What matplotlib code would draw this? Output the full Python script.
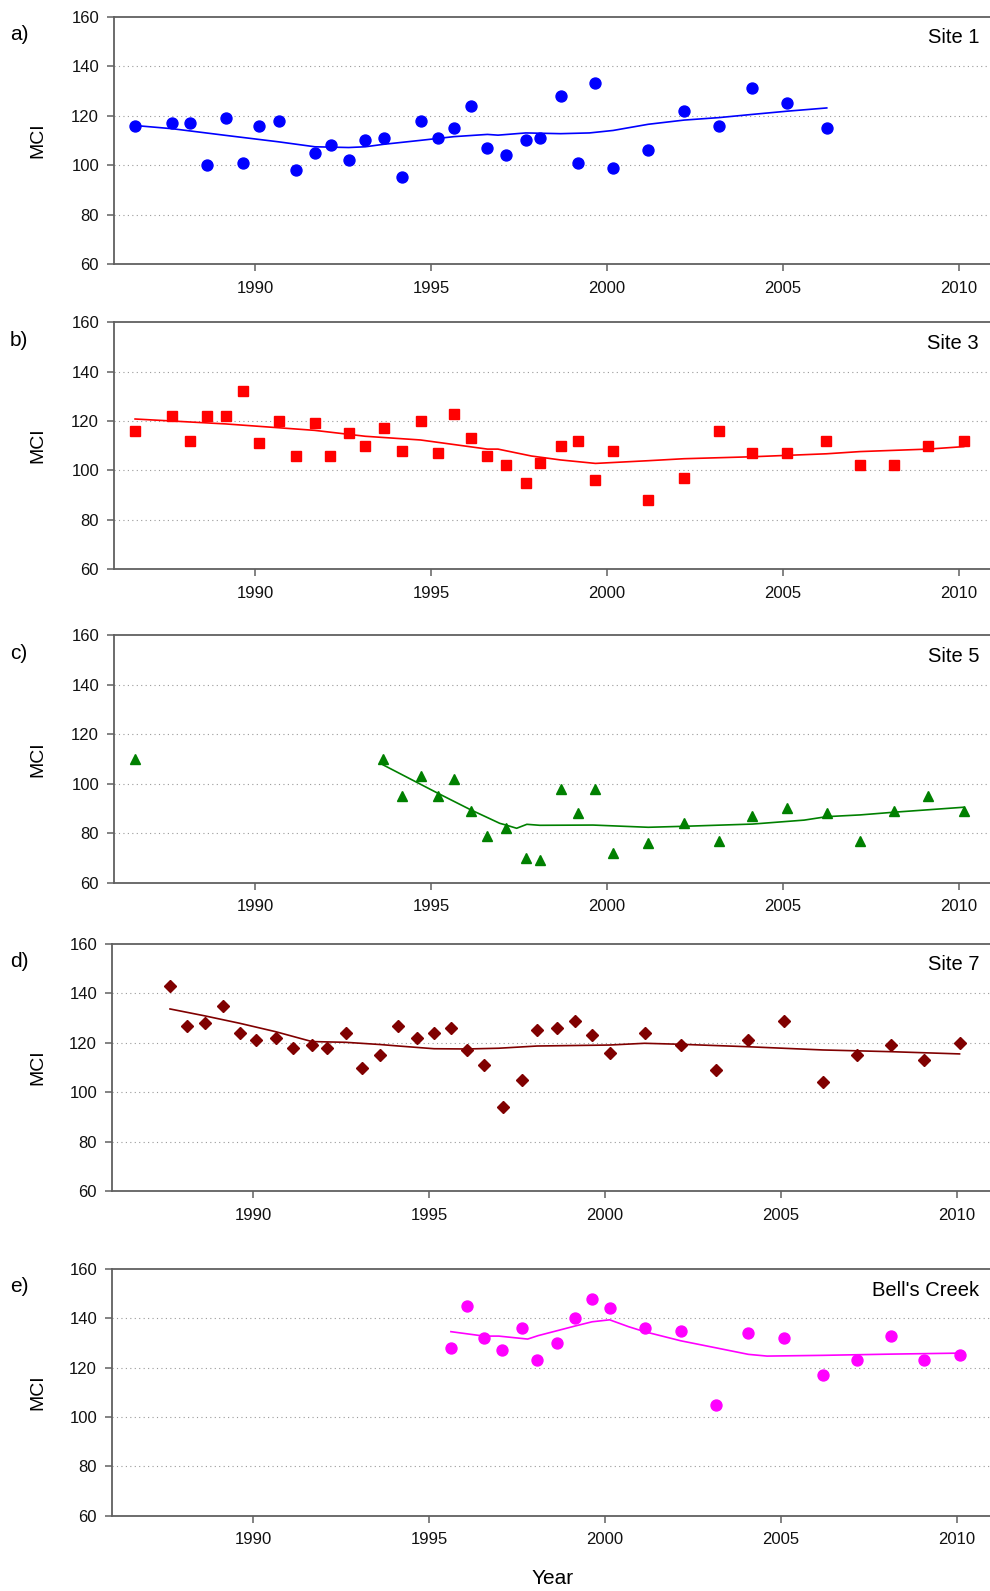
import matplotlib
matplotlib.use("Agg")
import matplotlib.pyplot as plt

plt.rcParams['font.family'] = ['Liberation Sans', 'DejaVu Sans']

# Site 1
years_s1 = [1986.59, 1987.65, 1988.14, 1988.64, 1989.17, 1989.65, 1990.11, 1990.67, 1991.16, 1991.70,
            1992.15, 1992.66, 1993.13, 1993.65, 1994.18, 1994.70, 1995.20, 1995.65, 1996.12, 1996.60,
            1997.13, 1997.69, 1998.09, 1998.68, 1999.18, 1999.67, 2000.17, 2001.17, 2002.19, 2003.18,
            2004.13, 2005.12, 2006.24]
mci_s1 = [116, 117, 117, 100, 119, 101, 116, 118, 98, 105,
          108, 102, 110, 111, 95, 118, 111, 115, 124, 107,
          104, 110, 111, 128, 101, 133, 99, 106, 122, 116,
          131, 125, 115]
trend_x_s1 = [1986.59, 1987.65, 1989.17, 1990.67, 1991.70, 1992.66, 1993.13, 1993.65, 1994.70, 1995.65,
              1996.60, 1996.90, 1997.69, 1998.68, 1999.5, 2000.17, 2001.17, 2002.19, 2003.18, 2004.13,
              2005.12, 2006.24]
trend_s1 = [116.0, 114.7, 112.0, 109.4, 107.4, 107.1, 107.4, 108.4, 110.0, 111.5,
            112.4, 112.1, 113.0, 112.7, 113.0, 114.0, 116.5, 118.2, 119.2, 120.5,
            121.8, 123.1]

# Site 3
years_s3 = [1986.59, 1987.65, 1988.14, 1988.64, 1989.17, 1989.65, 1990.10, 1990.67, 1991.16, 1991.69,
            1992.14, 1992.66, 1993.13, 1993.65, 1994.18, 1994.70, 1995.20, 1995.65, 1996.12, 1996.60,
            1997.12, 1997.69, 1998.09, 1998.68, 1999.18, 1999.67, 2000.17, 2001.17, 2002.18, 2003.18,
            2004.13, 2005.11, 2006.23, 2007.19, 2008.16, 2009.12, 2010.13]
mci_s3 = [116, 122, 112, 122, 122, 132, 111, 120, 106, 119,
          106, 115, 110, 117, 108, 120, 107, 123, 113, 106,
          102, 95, 103, 110, 112, 96, 108, 88, 97, 116,
          107, 107, 112, 102, 102, 110, 112]
trend_x_s3 = [1986.59, 1989.17, 1991.69, 1993.13, 1994.70, 1996.60, 1996.9, 1997.85, 1998.68, 1999.67,
              2001.17, 2002.18, 2004.13, 2006.23, 2007.19, 2009.12, 2010.13]
trend_s3 = [120.8, 118.8, 116.2, 113.8, 112.3, 108.6, 108.6, 105.8, 104.2, 102.8,
            103.9, 104.7, 105.5, 106.7, 107.6, 108.6, 109.6]

# Site 5
years_s5 = [1986.59, 1993.64, 1994.18, 1994.70, 1995.20, 1995.65, 1996.12, 1996.60, 1997.13, 1997.69,
            1998.09, 1998.68, 1999.18, 1999.67, 2000.17, 2001.17, 2002.19, 2003.18, 2004.13, 2005.12,
            2006.24, 2007.19, 2008.16, 2009.12, 2010.13]
mci_s5 = [110, 110, 95, 103, 95, 102, 89, 79, 82, 70,
          69, 98, 88, 98, 72, 76, 84, 77, 87, 90,
          88, 77, 89, 95, 89]
trend_x_s5 = [1993.64, 1995.20, 1996.12, 1996.65, 1996.95, 1997.13, 1997.43, 1997.72, 1998.09, 1999.6,
              2001.17, 2002.19, 2004.13, 2005.6, 2006.24, 2007.19, 2008.16, 2010.13]
trend_s5 = [107.6, 96.1, 89.5, 86.0, 84.0, 83.3, 82.0, 83.6, 83.2, 83.3,
            82.4, 82.8, 83.7, 85.3, 86.7, 87.4, 88.5, 90.5]

# Site 7
years_s7 = [1987.64, 1988.13, 1988.63, 1989.15, 1989.62, 1990.08, 1990.64, 1991.14, 1991.67, 1992.11,
            1992.63, 1993.10, 1993.61, 1994.13, 1994.65, 1995.14, 1995.62, 1996.08, 1996.56, 1997.09,
            1997.64, 1998.07, 1998.64, 1999.15, 1999.63, 2000.13, 2001.12, 2002.15, 2003.14, 2004.07,
            2005.08, 2006.19, 2007.15, 2008.13, 2009.07, 2010.07]
mci_s7 = [143, 127, 128, 135, 124, 121, 122, 118, 119, 118,
          124, 110, 115, 127, 122, 124, 126, 117, 111, 94,
          105, 125, 126, 129, 123, 116, 124, 119, 109, 121,
          129, 104, 115, 119, 113, 120]
trend_x_s7 = [1987.64, 1988.63, 1989.62, 1990.64, 1991.67, 1992.63, 1993.61, 1994.13, 1995.14, 1996.08,
              1996.98, 1998.07, 2000.13, 2001.12, 2002.15, 2004.07, 2006.19, 2008.13, 2010.07]
trend_s7 = [133.7, 130.9, 127.9, 124.5, 120.5, 120.2, 119.3, 118.7, 117.6, 117.5,
            117.8, 118.7, 119.1, 119.8, 119.4, 118.4, 117.1, 116.4, 115.5]

# Bell's Creek
years_bc = [1995.62, 1996.08, 1996.56, 1997.06, 1997.64, 1998.07, 1998.64, 1999.15, 1999.63, 2000.13,
            2001.12, 2002.15, 2003.14, 2004.07, 2005.08, 2006.19, 2007.15, 2008.13, 2009.06, 2010.07]
mci_bc = [128, 145, 132, 127, 136, 123, 130, 140, 148, 144,
          136, 135, 105, 134, 132, 117, 123, 133, 123, 125]
trend_x_bc = [1995.62, 1996.56, 1996.98, 1997.80, 1998.10, 1998.64, 1999.15, 1999.63, 2000.13, 2000.67,
              2001.12, 2002.15, 2003.2, 2004.07, 2004.6, 2006.19, 2008.13, 2010.07]
trend_bc = [134.6, 132.8, 132.8, 131.6, 133.0, 135.0, 136.9, 138.6, 139.4, 136.6,
            134.6, 130.9, 127.9, 125.4, 124.7, 125.0, 125.5, 125.9]

panel_letters = ['a)', 'b)', 'c)', 'd)', 'e)']
site_names = ['Site 1', 'Site 3', 'Site 5', 'Site 7', "Bell's Creek"]
colors = ['#0000FF', '#FF0000', '#008000', '#800000', '#FF00FF']
markers = ['o', 's', '^', 'D', 'o']
msizes = [7.9, 6.8, 7.4, 6.4, 7.9]
all_x = [years_s1, years_s3, years_s5, years_s7, years_bc]
all_y = [mci_s1, mci_s3, mci_s5, mci_s7, mci_bc]
all_tx = [trend_x_s1, trend_x_s3, trend_x_s5, trend_x_s7, trend_x_bc]
all_ty = [trend_s1, trend_s3, trend_s5, trend_s7, trend_bc]

W, H = 990, 1591
# axes boxes in pixels: left, top, bottom
boxes = [(114.3, 16.7, 264.0), (114.3, 322.3, 569.0), (114.3, 635.3, 882.7),
         (112.3, 944.0, 1191.0), (112.3, 1269.0, 1515.7)]
axw = 880

fig = plt.figure(figsize=(W / 100, H / 100), dpi=100)
spine_col = '#606060'

for i in range(5):
    left, top, bot = boxes[i]
    ax = fig.add_axes([left / W, 1 - bot / H, axw / W, (bot - top) / H])
    ax.plot(all_x[i], all_y[i], linestyle='none', marker=markers[i], ms=msizes[i],
            color=colors[i], markeredgecolor=colors[i], zorder=3)
    ax.plot(all_tx[i], all_ty[i], color=colors[i], lw=1.2, zorder=2)
    ax.set_xlim(1986, 2011)
    ax.set_ylim(60, 160)
    ax.set_yticks([60, 80, 100, 120, 140, 160])
    ax.set_xticks([1990, 1995, 2000, 2005, 2010])
    for g in [80, 100, 120, 140]:
        ax.axhline(g, color='#9a9a9a', lw=0.8, linestyle=(0, (1, 3)), zorder=1)
    for s in ['top', 'left', 'bottom']:
        ax.spines[s].set_color(spine_col)
        ax.spines[s].set_linewidth(1.3)
    ax.spines['right'].set_visible(False)
    ax.tick_params(direction='out', length=5, width=1.1, color=spine_col,
                   labelsize=12, labelcolor='#111111', pad=6)
    ax.tick_params(axis='x', pad=7)
    fig.text(10 / W, 1 - (top + 18) / H, panel_letters[i], fontsize=15, ha='left', va='center')
    fig.text(979 / W, 1 - (top + 21) / H, site_names[i], fontsize=14.5, ha='right', va='center')
    fig.text(38 / W, 1 - ((top + bot) / 2) / H, 'MCI', fontsize=14, rotation=90,
             ha='center', va='center')

fig.text(553 / W, 1 - 1578 / H, 'Year', fontsize=15, ha='center', va='center')

fig.savefig('out.png', dpi=100)
